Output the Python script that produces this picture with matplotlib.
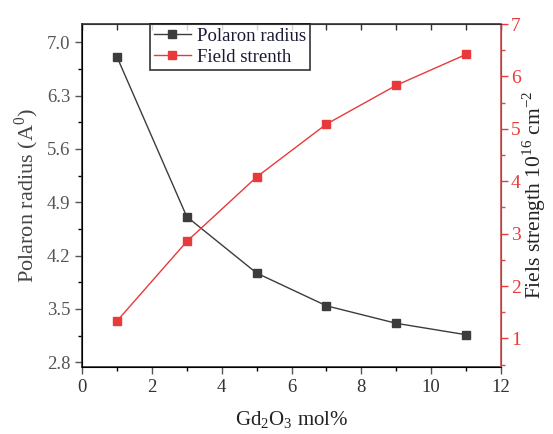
import numpy as np
import matplotlib.pyplot as plt
from matplotlib.ticker import MultipleLocator

plt.rcParams['font.family'] = ['Liberation Serif', 'DejaVu Serif']
plt.rcParams['mathtext.fontset'] = 'custom'
plt.rcParams['mathtext.rm'] = 'Liberation Serif'

gd_mol = [1, 3, 5, 7, 9, 11]
polaron_radius = [6.81, 4.71, 3.97, 3.54, 3.31, 3.16]
field_strength = [1.33, 2.85, 4.08, 5.09, 5.83, 6.42]

black = '#3c3c3c'
red = '#e83a3a'
spine_red = '#d05050'

fig = plt.figure(figsize=(5.53, 4.34), dpi=100)
ax = fig.add_axes([0.1483, 0.155, 0.7577, 0.7897])
ax2 = ax.twinx()

l1, = ax.plot(gd_mol, polaron_radius, '-s', color=black, lw=1, ms=6, label='Polaron radius')
l2, = ax2.plot(gd_mol, field_strength, '-s', color=red, lw=1, ms=6, label='Field strenth')

ax.set_xlim(0, 12)
ax.set_ylim(2.74, 7.24)
ax2.set_ylim(0.46, 7.0)

ax.set_xticks(range(0, 13, 2))
ax.xaxis.set_minor_locator(MultipleLocator(1))
ax.set_yticks([2.8, 3.5, 4.2, 4.9, 5.6, 6.3, 7.0])
ax.yaxis.set_minor_locator(MultipleLocator(0.35))
ax2.set_yticks(range(1, 8))
ax2.yaxis.set_minor_locator(MultipleLocator(0.5))

ax.tick_params(axis='both', which='major', direction='out', length=5, width=1, labelsize=13.5, colors='#555555')
ax.tick_params(axis='x', labelcolor='#333333')
ax.tick_params(axis='both', which='minor', direction='out', length=3, width=1)
ax2.tick_params(axis='y', which='major', direction='out', length=5, width=1, labelsize=14, colors=red, pad=2)
ax2.tick_params(axis='y', which='minor', direction='out', length=3, width=1, colors=spine_red)

# top ticks point inward
sec = ax.secondary_xaxis('top')
sec.set_xticks(range(0, 13, 1))
sec.tick_params(direction='in', length=4, width=1, labeltop=False, color='#333333')
sec.spines['top'].set_visible(False)
ax.tick_params(axis='x', which='both', top=False)

for s in ['left', 'bottom', 'top']:
    ax.spines[s].set_color('#333333')
    ax.spines[s].set_linewidth(1.2)
ax2.spines['right'].set_color(spine_red)
ax2.spines['right'].set_linewidth(1.2)
ax2.spines['top'].set_color('#333333')

ax.set_xlabel('Gd$_2$O$_3$ mol%', fontsize=15, color='#222222', labelpad=10)
ax.set_ylabel('Polaron radius (A$^0$)', fontsize=16, color='#444444', labelpad=4)
ax2.set_ylabel('Fiels strength 10$^{16}$ cm$^{-2}$', fontsize=15.5, color='#222222', labelpad=0)

leg = ax.legend(handles=[l1, l2], loc='upper left', bbox_to_anchor=(0.162, 1.0),
                borderaxespad=0, fontsize=13.5, frameon=True, fancybox=False,
                edgecolor='black', handlelength=2.0, handletextpad=0.3,
                borderpad=0.2, labelspacing=0.2)
leg.get_frame().set_linewidth(1.2)
for t in leg.get_texts():
    t.set_color('#1a1a33')
leg.set_zorder(10)

fig.savefig('out.png', dpi=100)
